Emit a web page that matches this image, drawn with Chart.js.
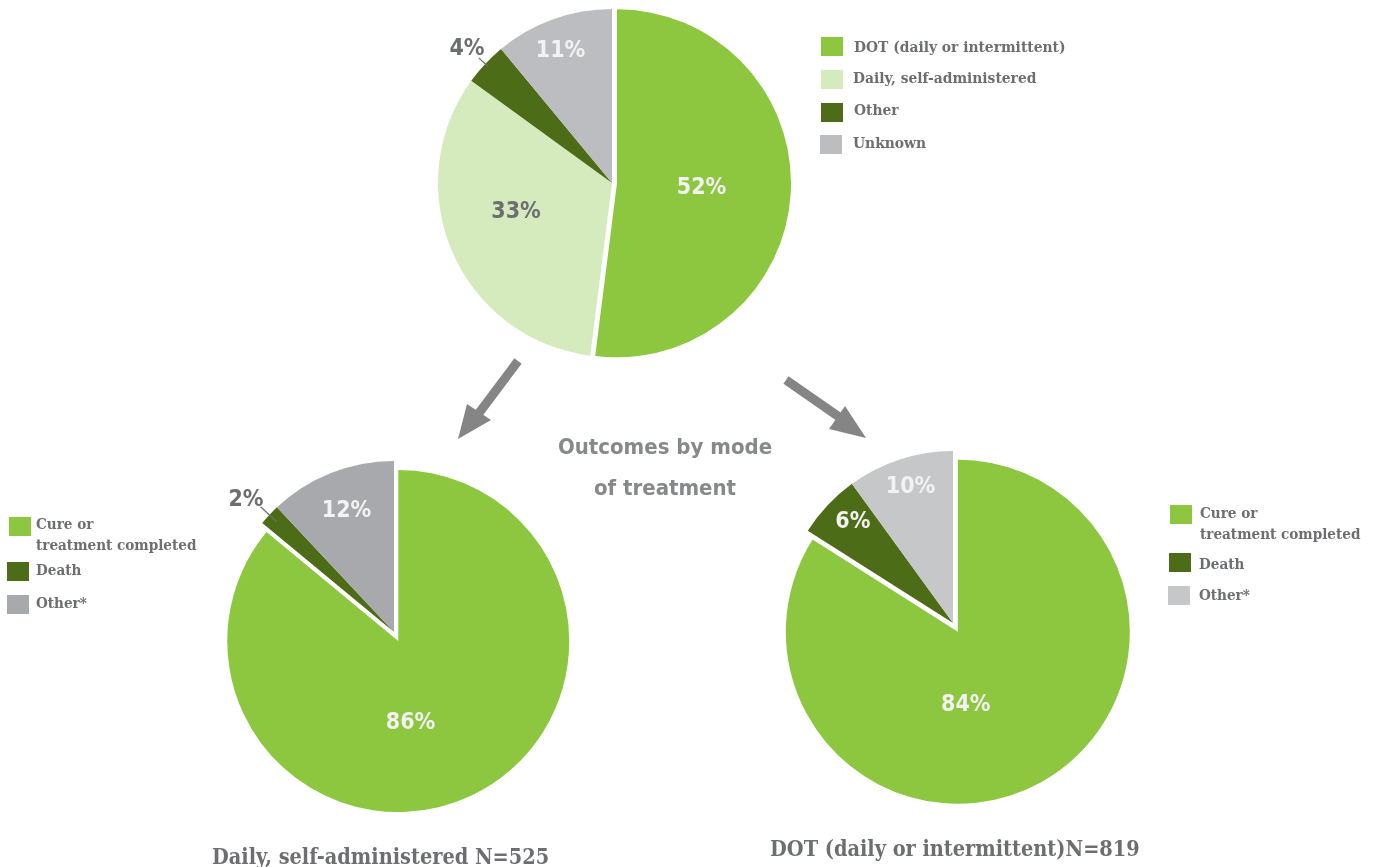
<!DOCTYPE html>
<html>
<head>
<meta charset="utf-8">
<script src="https://cdn.jsdelivr.net/npm/chart.js@4"></script>
<style>
  html, body { margin:0; padding:0; background:#fff; width:1377px; height:867px; overflow:hidden; }
  .cv { position:absolute; }
  .leg { position:absolute; font-family:"DejaVu Serif Condensed","DejaVu Serif",serif; font-weight:bold; font-size:15.1px; color:#6D6E71; }
  #legTop { font-size:15.4px; }
  .leg .box { position:absolute; width:22px; height:19px; }
  .leg .txt { position:absolute; white-space:nowrap; line-height:20px; }
  .title { position:absolute; font-family:"DejaVu Sans Condensed","DejaVu Sans",sans-serif; font-weight:bold; font-size:22px; color:#87888A; text-align:center; line-height:41px; }
  .cap { position:absolute; font-family:"DejaVu Serif Condensed","DejaVu Serif",serif; font-weight:bold; font-size:21.5px; color:#6D6E71; white-space:nowrap; }
</style>
</head>
<body>
<canvas id="cTop" class="cv" style="left:412px;top:0px;" width="400" height="366"></canvas>
<canvas id="cLeft" class="cv" style="left:194px;top:432px;" width="400" height="400"></canvas>
<canvas id="cRight" class="cv" style="left:753px;top:423px;" width="400" height="400"></canvas>

<svg style="position:absolute;left:0;top:0" width="1377" height="867">
  <g fill="#858585" stroke="none">
    <line x1="518" y1="361" x2="476" y2="417" stroke="#858585" stroke-width="9"/>
    <polygon points="458,439 467,404 491,420"/>
    <line x1="786" y1="380" x2="842" y2="419" stroke="#858585" stroke-width="9"/>
    <polygon points="866,438 845,406 829,429"/>
  </g>
</svg>

<div class="title" style="left:520px;top:426px;width:290px;">Outcomes by mode<br>of treatment</div>
<div class="cap" style="left:212px;top:844px;">Daily, self-administered N=525</div>
<div class="cap" style="left:770px;top:836px;">DOT (daily or intermittent)N=819</div>

<div id="legTop" class="leg"></div>
<div id="legLeft" class="leg"></div>
<div id="legRight" class="leg"></div>

<script>
// ---- data ----
const modeLabels = ["DOT (daily or intermittent)", "Daily, self-administered", "Other", "Unknown"];
const modeValues = [52, 33, 4, 11];

const outcomeLabels = ["Cure or\ntreatment completed", "Death", "Other*"];
const selfAdminValues = [86, 2, 12];
const dotValues = [84, 6, 10];

// ---- styles ----
const GREEN = "#8DC63F", LIGHT = "#D6EBBD", DARK = "#4D6C17";
const modeColors = [GREEN, LIGHT, DARK, "#BCBDC0"];
const selfColors = [GREEN, DARK, "#A7A9AC"];
const dotColors = [GREEN, DARK, "#C6C7C9"];
const FS = 23;

// draws each library arc element shifted outward (exploded slice) and its percentage label
const explodePlugin = {
  id: "explodeLabels",
  beforeDatasetDraw(chart, args, opts) {
    const ctx = chart.ctx;
    args.meta.data.forEach((arc, i) => {
      const e = opts.explode[i] || 0;
      const mid = (arc.startAngle + arc.endAngle) / 2;
      ctx.save();
      ctx.translate(Math.cos(mid) * e, Math.sin(mid) * e);
      arc.draw(ctx, chart.chartArea);
      ctx.restore();
    });
    return false;
  },
  afterDatasetsDraw(chart, args, opts) {
    const ctx = chart.ctx;
    const meta = chart.getDatasetMeta(0);
    const ds = chart.data.datasets[0];
    ctx.save();
    ctx.font = "bold " + FS + "px 'DejaVu Sans Condensed', 'DejaVu Sans', sans-serif";
    ctx.textAlign = "center";
    ctx.textBaseline = "alphabetic";
    meta.data.forEach((arc, i) => {
      const p = opts.items[i];
      const mid = (arc.startAngle + arc.endAngle) / 2;
      const r = arc.outerRadius;
      const e = opts.explode[i] || 0;
      const cx = arc.x + Math.cos(mid) * e, cy = arc.y + Math.sin(mid) * e;
      if (p.line) {
        ctx.strokeStyle = "#6D6E71";
        ctx.lineWidth = 1.2;
        ctx.beginPath();
        ctx.moveTo(cx + Math.cos(mid) * r * p.line[0], cy + Math.sin(mid) * r * p.line[0]);
        ctx.lineTo(cx + Math.cos(mid) * r * p.line[1], cy + Math.sin(mid) * r * p.line[1]);
        ctx.stroke();
      }
      const a = mid + (p.da || 0);
      ctx.fillStyle = p.color;
      ctx.fillText(ds.data[i] + "%", cx + Math.cos(a) * r * p.f, cy + Math.sin(a) * r * p.f + 0.365 * FS);
    });
    ctx.restore();
  }
};

function makePie(id, values, labels, colors, radius, explode, items) {
  return new Chart(document.getElementById(id), {
    type: "pie",
    data: { labels: labels, datasets: [{ data: values, backgroundColor: colors, borderWidth: 0 }] },
    options: {
      responsive: false, animation: false, radius: radius,
      layout: { padding: 0 },
      plugins: { legend: { display: false }, tooltip: { enabled: false }, explodeLabels: { explode: explode, items: items } }
    },
    plugins: [explodePlugin]
  });
}

const W = "#F2F2F2", G = "#6D6E71";
makePie("cTop", modeValues, modeLabels, modeColors, 174, [5, 0, 0, 0], [
  { f: 0.486, color: W, da: -0.031 }, { f: 0.573, color: G, da: 0.134 },
  { f: 1.143, color: G, line: [0.98, 1.05] }, { f: 0.828, color: W, da: -0.02 }
]);
makePie("cLeft", selfAdminValues, outcomeLabels, selfColors, 171, [10, 0, 0], [
  { f: 0.47, color: W, da: 0.287 }, { f: 1.17, color: G, da: -0.016, line: [0.94, 1.07] },
  { f: 0.771, color: W, da: 0.009 }
]);
makePie("cRight", dotValues, outcomeLabels, dotColors, 172, [10, 0, 0], [
  { f: 0.414, color: W, da: 0.39 }, { f: 0.835, color: W, da: 0.046 }, { f: 0.84, color: W, da: 0.016 }
]);

// ---- legends (HTML) ----
function makeLegend(id, labels, colors, boxes, texts) {
  const el = document.getElementById(id);
  labels.forEach((lab, i) => {
    const b = document.createElement("div");
    b.className = "box";
    b.style.left = boxes[i][0] + "px"; b.style.top = boxes[i][1] + "px";
    b.style.background = colors[i];
    el.appendChild(b);
    lab.split("\n").forEach((line, j) => {
      const t = document.createElement("div");
      t.className = "txt";
      t.textContent = line;
      t.style.left = texts[i][0] + "px";
      t.style.top = (texts[i][1] + j * 20.5 - 10) + "px";
      el.appendChild(t);
    });
  });
}
makeLegend("legTop", modeLabels, modeColors,
  [[821, 37], [821, 70], [821, 103], [820, 135]],
  [[854, 46.5], [853, 78], [854, 110], [853, 143]]);
makeLegend("legLeft", outcomeLabels, selfColors,
  [[9, 517], [7, 562], [7, 595]],
  [[36, 524], [36, 570], [36, 603]]);
makeLegend("legRight", outcomeLabels, dotColors,
  [[1170, 505], [1169, 553], [1168, 586]],
  [[1200, 513], [1199, 564], [1199, 595]]);
</script>
</body>
</html>
